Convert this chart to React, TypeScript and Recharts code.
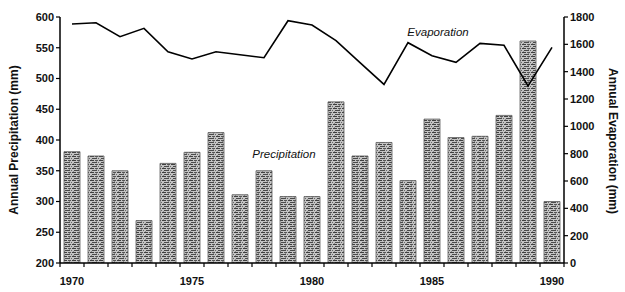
import { ComposedChart, Bar, Line, XAxis, YAxis, Customized } from 'recharts';

const years = [
  1970, 1971, 1972, 1973, 1974, 1975, 1976, 1977, 1978, 1979, 1980,
  1981, 1982, 1983, 1984, 1985, 1986, 1987, 1988, 1989, 1990,
];
const precipitation = [
  381, 374, 350, 269, 362, 380, 412, 311, 350, 308, 308,
  462, 374, 396, 334, 434, 404, 406, 440, 561, 300,
];
const evaporation = [
  1749, 1758, 1656, 1717, 1546, 1493, 1546, 1524, 1502, 1773, 1741,
  1627, 1466, 1307, 1612, 1517, 1468, 1607, 1593, 1295, 1578,
];
const precipTicks = [200, 250, 300, 350, 400, 450, 500, 550, 600];
const evapTicks = [0, 200, 400, 600, 800, 1000, 1200, 1400, 1600, 1800];

const data = years.map((year, i) => ({
  year,
  precipitation: precipitation[i],
  evaporation: evaporation[i],
}));

const font = 'Liberation Sans, Arial, sans-serif';
const BAND = 24;

const YearTick = (props: any) => {
  const { x, y, payload, index } = props;
  const showLabel = payload.value % 5 === 0;
  return (
    <g>
      <line x1={x - BAND / 2} y1={y - 8} x2={x - BAND / 2} y2={y - 4} stroke="#000" strokeWidth={1.2} />
      {index === years.length - 1 && (
        <line x1={x + BAND / 2} y1={y - 8} x2={x + BAND / 2} y2={y - 4} stroke="#000" strokeWidth={1.2} />
      )}
      {showLabel && (
        <text x={x} y={y + 14} textAnchor="middle" fontSize={11} fontFamily={font} fontWeight="bold" fill="#111">
          {payload.value}
        </text>
      )}
    </g>
  );
};

const Annotations = () => (
  <g fontFamily={font} fill="#111">
    <text x={438} y={36} textAnchor="middle" fontSize={11.5} fontStyle="italic">
      Evaporation
    </text>
    <text x={284} y={158} textAnchor="middle" fontSize={11.5} fontStyle="italic">
      Precipitation
    </text>
    <text
      x={18}
      y={140}
      textAnchor="middle"
      fontSize={12}
      fontWeight="bold"
      transform="rotate(-90 18 140)"
    >
      Annual Precipitation (mm)
    </text>
    <text
      x={609}
      y={141}
      textAnchor="middle"
      fontSize={12}
      fontWeight="bold"
      transform="rotate(90 609 141)"
    >
      Annual Evaporation (mm)
    </text>
  </g>
);

export default function App() {
  return (
    <div style={{ position: 'absolute', left: 0, top: 0, width: 625, height: 292, background: '#fff' }}>
      <ComposedChart
        width={625}
        height={292}
        data={data}
        margin={{ top: 17, right: 0, left: 0, bottom: 0 }}
        barCategoryGap={4}
      >
        <defs>
          <pattern id="texture" width="9" height="4" patternUnits="userSpaceOnUse">
            <rect width="9" height="4" fill="#c4c4c4" />
            <rect x="0" y="0" width="4" height="1" fill="#3f3f3f" />
            <rect x="5" y="0" width="3" height="1" fill="#555" />
            <rect x="2" y="2" width="5" height="1" fill="#4a4a4a" />
            <rect x="8" y="2" width="1" height="1" fill="#666" />
            <rect x="6" y="1" width="1" height="1" fill="#8a8a8a" />
            <rect x="1" y="3" width="1" height="1" fill="#8a8a8a" />
          </pattern>
        </defs>
        <XAxis
          dataKey="year"
          height={29}
          interval={0}
          tickLine={false}
          axisLine={{ stroke: '#000', strokeWidth: 1.5 }}
          tick={<YearTick />}
        />
        <YAxis
          yAxisId="left"
          width={60}
          domain={[200, 600]}
          ticks={precipTicks}
          allowDataOverflow
          tickSize={4}
          axisLine={{ stroke: '#000', strokeWidth: 1.5 }}
          tickLine={{ stroke: '#000', strokeWidth: 1.2 }}
          tick={{ fontSize: 11, fontFamily: font, fontWeight: 'bold', fill: '#111' }}
        />
        <YAxis
          yAxisId="right"
          orientation="right"
          width={61}
          domain={[0, 1800]}
          ticks={evapTicks}
          tickSize={4}
          axisLine={{ stroke: '#000', strokeWidth: 1.5 }}
          tickLine={{ stroke: '#000', strokeWidth: 1.2 }}
          tick={{ fontSize: 11, fontFamily: font, fontWeight: 'bold', fill: '#111', textAnchor: 'start' }}
        />
        <Bar
          yAxisId="left"
          dataKey="precipitation"
          barSize={16}
          fill="url(#texture)"
          stroke="#5a5a5a"
          strokeWidth={0.8}
          isAnimationActive={false}
        />
        <Line
          yAxisId="right"
          dataKey="evaporation"
          type="linear"
          stroke="#000"
          strokeWidth={1.6}
          dot={false}
          activeDot={false}
          isAnimationActive={false}
        />
        <Customized component={Annotations} />
      </ComposedChart>
    </div>
  );
}
